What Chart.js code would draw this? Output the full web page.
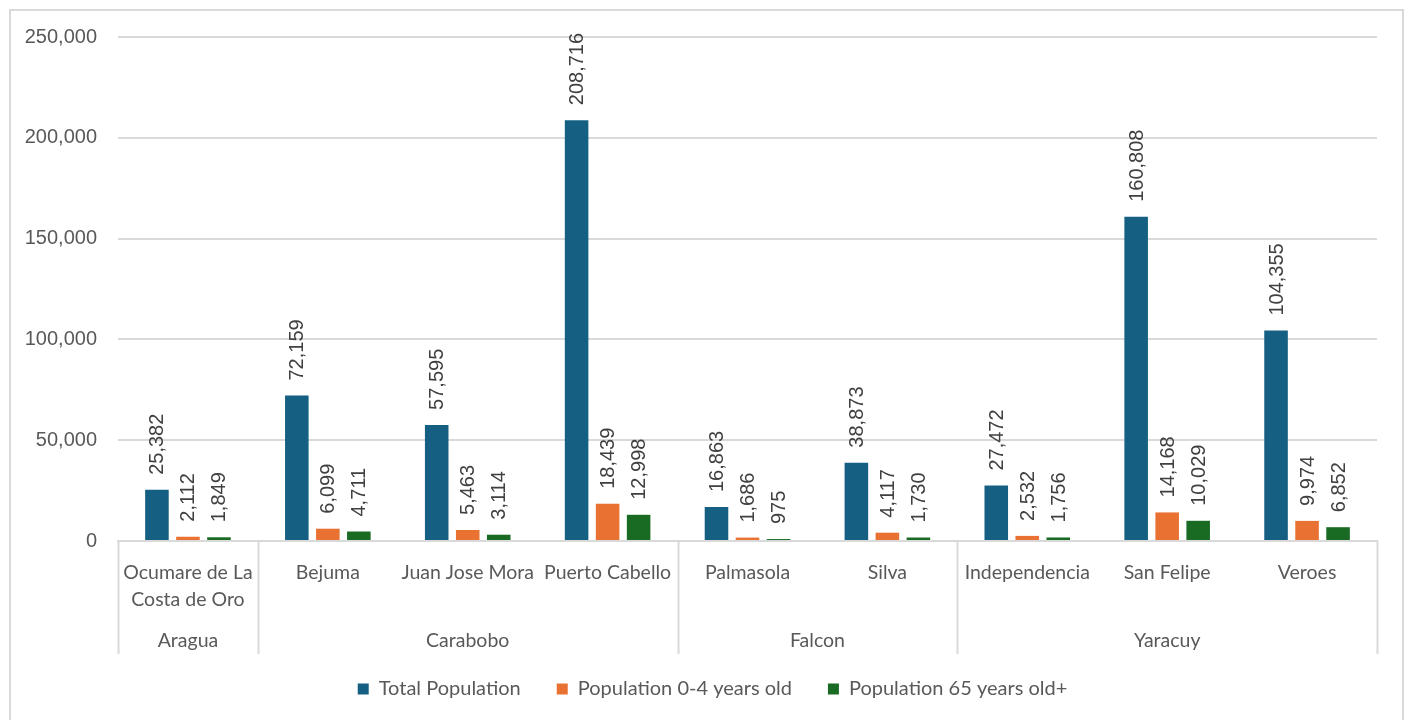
<!DOCTYPE html>
<html>
<head>
<meta charset="utf-8">
<script src="https://cdn.jsdelivr.net/npm/chart.js@4"></script>
<style>
  html, body { margin: 0; padding: 0; background: #ffffff; }
  #wrap { position: relative; width: 1409px; height: 720px; }
</style>
</head>
<body>
<div id="wrap"><canvas id="chart" width="1409" height="720"></canvas></div>
<script>
// municipalities and the state each one belongs to
const municipalities = [
  ['Ocumare de La', 'Costa de Oro'], 'Bejuma', 'Juan Jose Mora', 'Puerto Cabello',
  'Palmasola', 'Silva', 'Independencia', 'San Felipe', 'Veroes'
];
const states = ['Aragua', 'Carabobo', 'Carabobo', 'Carabobo', 'Falcon', 'Falcon', 'Yaracuy', 'Yaracuy', 'Yaracuy'];

const totalPopulation = [25382, 72159, 57595, 208716, 16863, 38873, 27472, 160808, 104355];
const population0to4 = [2112, 6099, 5463, 18439, 1686, 4117, 2532, 14168, 9974];
const population65plus = [1849, 4711, 3114, 12998, 975, 1730, 1756, 10029, 6852];

const yTicks = [0, 50000, 100000, 150000, 200000, 250000];

const labelFont = 'Lato, "Liberation Sans", sans-serif';
const numFont = '"Liberation Sans", Arial, sans-serif';
const lineColor = '#d9d9d9';

// frame around the chart
const framePlugin = {
  id: 'frame',
  beforeDraw(chart) {
    const ctx = chart.ctx;
    ctx.save();
    ctx.strokeStyle = lineColor;
    ctx.lineWidth = 2;
    ctx.strokeRect(10, 10, 1393, 720);
    ctx.restore();
  }
};

// legend sits centred under the whole frame, not the padded box
const legendShift = {
  id: 'legendShift',
  afterLayout(chart) {
    chart.legend.left += 24;
    chart.legend.right += 24;
  }
};

// rotated value labels above bars
const valueLabels = {
  id: 'valueLabels',
  afterDatasetsDraw(chart) {
    const ctx = chart.ctx;
    ctx.save();
    ctx.font = '20px ' + numFont;
    ctx.fillStyle = '#404040';
    ctx.textAlign = 'left';
    ctx.textBaseline = 'middle';
    chart.data.datasets.forEach((ds, i) => {
      chart.getDatasetMeta(i).data.forEach((bar, j) => {
        ctx.save();
        ctx.translate(bar.x + 1, bar.y - 15);
        ctx.rotate(-Math.PI / 2);
        ctx.fillText(ds.data[j].toLocaleString('en-US'), 0, 0);
        ctx.restore();
      });
    });
    ctx.restore();
  }
};

// second level of the category axis: states and separators
const stateAxis = {
  id: 'stateAxis',
  afterDraw(chart) {
    const x = chart.scales.x;
    const ctx = chart.ctx;
    const half = (x.getPixelForValue(1) - x.getPixelForValue(0)) / 2;
    const top = x.top;
    ctx.save();
    ctx.strokeStyle = lineColor;
    ctx.lineWidth = 2;
    ctx.fillStyle = '#595959';
    ctx.font = '19.5px ' + labelFont;
    ctx.textAlign = 'center';
    ctx.textBaseline = 'middle';
    let start = 0;
    for (let i = 1; i <= states.length; i++) {
      if (i === states.length || states[i] !== states[start]) {
        const left = x.getPixelForValue(start) - half;
        const right = x.getPixelForValue(i - 1) + half;
        ctx.fillText(states[start], (left + right) / 2, top + 100);
        start = i;
      }
    }
    const bounds = [0];
    for (let i = 1; i < states.length; i++) if (states[i] !== states[i - 1]) bounds.push(i);
    bounds.push(states.length);
    bounds.forEach(b => {
      const px = Math.round(x.getPixelForValue(b) - half) + 0.5;
      ctx.beginPath();
      ctx.moveTo(px, top);
      ctx.lineTo(px, top + 113);
      ctx.stroke();
    });
    ctx.restore();
  }
};

new Chart(document.getElementById('chart'), {
  type: 'bar',
  data: {
    labels: municipalities,
    datasets: [
      { label: 'Total Population', data: totalPopulation, backgroundColor: '#156082' },
      { label: 'Population 0-4 years old', data: population0to4, backgroundColor: '#E97132' },
      { label: 'Population 65 years old+', data: population65plus, backgroundColor: '#196B24' }
    ]
  },
  options: {
    responsive: false,
    animation: false,
    layout: { padding: { top: 37, right: 32, bottom: 11, left: 0 } },
    datasets: { bar: { categoryPercentage: 0.665, barPercentage: 0.76 } },
    scales: {
      x: {
        grid: { display: false, drawTicks: false },
        border: { display: true, color: lineColor, width: 2 },
        ticks: {
          color: '#595959',
          font: { family: labelFont, size: 19.5, lineHeight: 1.38 },
          padding: 18,
          maxRotation: 0,
          autoSkip: false
        },
        afterFit(scale) { scale.height = 102; }
      },
      y: {
        min: 0,
        max: 250000,
        afterBuildTicks(scale) { scale.ticks = yTicks.map(v => ({ value: v })); },
        grid: { color: lineColor, lineWidth: 2, drawTicks: false },
        border: { display: false },
        ticks: {
          color: '#595959',
          font: { family: numFont, size: 20 },
          padding: 21,
          callback: v => v.toLocaleString('en-US')
        },
        afterFit(scale) { scale.width = 118; }
      }
    },
    plugins: {
      legend: {
        position: 'bottom',
        labels: {
          color: '#595959',
          font: { family: labelFont, size: 20 },
          boxWidth: 11,
          boxHeight: 11,
          padding: 36
        }
      },
      tooltip: { enabled: false }
    }
  },
  plugins: [framePlugin, legendShift, valueLabels, stateAxis]
});
</script>
</body>
</html>
